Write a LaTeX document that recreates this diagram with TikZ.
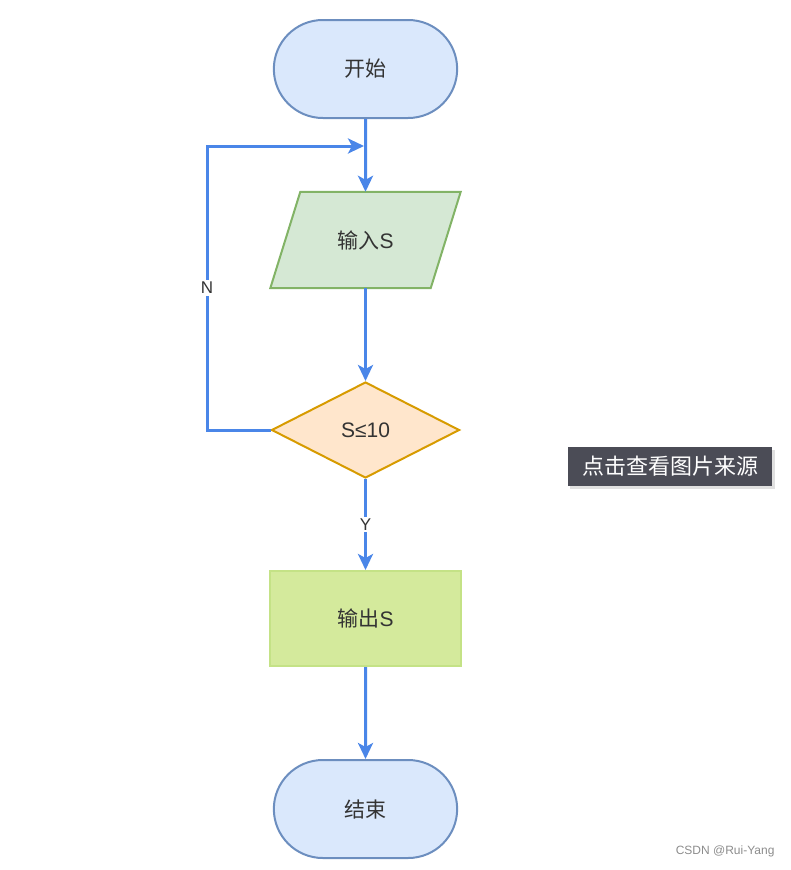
\documentclass[tikz,border=0pt]{standalone}
\usepackage{fontspec}
\setmainfont{Liberation Sans}
\newfontfamily\cjk{Noto Sans CJK SC}
\usepackage{tikz}
\usetikzlibrary{shapes.geometric,shapes.misc,arrows.meta,positioning,calc,backgrounds}
\usepackage{xcolor}
\definecolor{FlowBlue}{HTML}{4A86E8}
\definecolor{TermFill}{HTML}{DAE8FC}
\definecolor{TermDraw}{HTML}{6C8EBF}
\definecolor{IoFill}{HTML}{D5E8D4}
\definecolor{IoDraw}{HTML}{82B366}
\definecolor{CondFill}{HTML}{FFE6CC}
\definecolor{CondDraw}{HTML}{D79B00}
\definecolor{OutFill}{HTML}{D4EA9C}
\definecolor{OutDraw}{HTML}{C4E286}
\definecolor{TextGray}{HTML}{333333}
\definecolor{TipGray}{HTML}{4B4C56}

\begin{document}
\begin{tikzpicture}[x=1pt, y=-1pt,
    terminal/.style={rounded rectangle, draw=TermDraw, fill=TermFill, line width=2pt, minimum width=190pt, minimum height=98pt, font=\fontsize{21}{23}\selectfont, text=TextGray},
    iotext/.style={rectangle, minimum width=160pt, minimum height=96pt, inner sep=0pt, font=\fontsize{21}{23}\selectfont, text=TextGray},
    io/.style={draw=IoDraw, fill=IoFill, line width=2pt, line join=miter},
    decision/.style={diamond, draw=CondDraw, fill=CondFill, line width=2pt, minimum width=188pt, minimum height=96pt, inner sep=1pt, font=\fontsize{21}{23}\selectfont, text=TextGray},
    action/.style={rectangle, draw=OutDraw, fill=OutFill, line width=2pt, minimum width=191pt, minimum height=95pt, font=\fontsize{21}{23}\selectfont, text=TextGray},
    arr/.style={-{Stealth[length=16pt, width=15pt, inset=4pt]}, draw=FlowBlue, line width=3pt},
    lbl/.style={fill=white, inner sep=2pt, font=\fontsize{17}{19}\selectfont, text=TextGray}
  ]
    \useasboundingbox (0,0) rectangle (790,870);

    \node[terminal] (start) at (365.5, 69) {\cjk 开始};
    \node[iotext] (in) at (365.5, 240) {\cjk 输入\normalfont S};
    \node[decision] (d1) at (365.5, 430) {S≤10};
    \node[action] (out) at (365.5, 618.5) {\cjk 输出\normalfont S};
    \node[terminal] (stop) at (365.5, 809) {\cjk 结束};

    % slanted input box behind its text
    \begin{scope}[on background layer]
      \filldraw[io] ($(in.north west)+(15,0)$) -- ($(in.north east)+(15,0)$)
        -- ($(in.south east)+(-15,0)$) -- ($(in.south west)+(-15,0)$) -- cycle;
    \end{scope}

    \coordinate (loop) at (207, 146);
    \coordinate (join) at (364, 146);

    \draw[arr] (start) -- (in);
    \draw[arr] (in) -- (d1);
    \draw[arr] (d1.west) -| node[pos=0.75, lbl] {N} (loop) -- (join);
    \draw[arr] (d1) -- node[lbl] {Y} (out);
    \draw[arr] (out) -- (stop);

    % overlay from the screenshot
    \fill[black!12] (570, 450) rectangle (775, 489);
    \node[fill=TipGray, minimum width=204pt, minimum height=39pt, inner sep=0pt, text=white, font=\cjk\fontsize{22}{24}\selectfont] (tip) at (670, 466.5) {点击查看图片来源};
    \node[text=black!45, font=\fontsize{12}{14}\selectfont, anchor=east] (mark) at (778, 851) {CSDN @Rui-Yang};
\end{tikzpicture}
\end{document}
